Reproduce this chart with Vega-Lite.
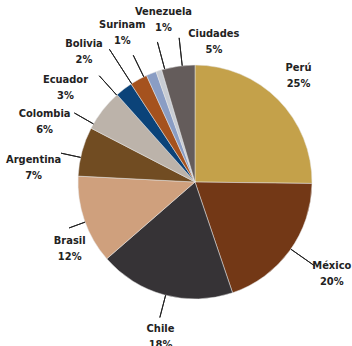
{
  "$schema": "https://vega.github.io/schema/vega-lite/v6.json",
  "width": 314,
  "height": 328,
  "autosize": {"type": "none"},
  "padding": {"left": 38, "top": 18, "right": 0, "bottom": 0},
  "background": "white",
  "view": {"stroke": null},
  "config": {"text": {"font": "'DejaVu Sans Condensed', sans-serif", "fontSize": 11, "fontWeight": "bold", "color": "#222", "lineHeight": 16, "align": "center", "baseline": "middle", "dy": -8}},
  "data": {"values": [
    {"orden": 1, "pais": "Perú", "valor": 25.2, "pct": 25},
    {"orden": 2, "pais": "México", "valor": 19.6, "pct": 20},
    {"orden": 3, "pais": "Chile", "valor": 18.8, "pct": 18},
    {"orden": 4, "pais": "Brasil", "valor": 12.2, "pct": 12},
    {"orden": 5, "pais": "Argentina", "valor": 6.8, "pct": 7},
    {"orden": 6, "pais": "Colombia", "valor": 5.8, "pct": 6},
    {"orden": 7, "pais": "Ecuador", "valor": 2.4, "pct": 3},
    {"orden": 8, "pais": "Bolivia", "valor": 2.4, "pct": 2},
    {"orden": 9, "pais": "Surinam", "valor": 1.4, "pct": 1},
    {"orden": 10, "pais": "Venezuela", "valor": 0.8, "pct": 1},
    {"orden": 11, "pais": "Ciudades", "valor": 4.6, "pct": 5}
  ]},
  "transform": [
    {"window": [{"op": "sum", "field": "valor", "as": "fin"}], "sort": [{"field": "orden"}], "frame": [null, 0]},
    {"calculate": "datum.fin - datum.valor", "as": "inicio"},
    {"calculate": "datum.fin - datum.valor / 2", "as": "mid"},
    {"calculate": "[datum.pais, datum.pct + '%']", "as": "lab"}
  ],
  "layer": [
    {
      "mark": {"type": "arc", "radius": 117, "stroke": "#e6e6e6", "strokeWidth": 0.5},
      "encoding": {
        "theta": {"field": "inicio", "type": "quantitative", "stack": null, "scale": {"domain": [0, 100]}},
        "theta2": {"field": "fin"},
        "color": {"field": "pais", "type": "nominal", "legend": null,
          "scale": {"domain": ["Perú", "México", "Chile", "Brasil", "Argentina", "Colombia", "Ecuador", "Bolivia", "Surinam", "Venezuela", "Ciudades"],
                    "range": ["#C4A14A", "#733816", "#363336", "#CFA07D", "#714C22", "#BCB3AA", "#0B4379", "#A5521E", "#8A9DC4", "#C8CCD3", "#645C5B"]}}
      }
    },
    {"transform": [{"filter": "datum.pais === 'Perú'"}],
     "encoding": {"theta": {"field": "mid", "type": "quantitative", "stack": null, "scale": {"domain": [0, 100]}}},
     "layer": [{"mark": {"type": "text", "radius": 148, "thetaOffset": -0.017}, "encoding": {"text": {"field": "lab"}}}]},
    {"transform": [{"filter": "datum.pais === 'México'"}],
     "encoding": {"theta": {"field": "mid", "type": "quantitative", "stack": null, "scale": {"domain": [0, 100]}}},
     "layer": [
       {"mark": {"type": "text", "radius": 165, "thetaOffset": -0.035}, "encoding": {"text": {"field": "lab"}}},
       {"mark": {"type": "arc", "radius": 146, "radius2": 117, "thetaOffset": -0.017, "theta2Offset": -0.017, "stroke": "#222", "strokeWidth": 1, "fill": null}, "encoding": {"theta2": {"field": "mid"}}}
     ]},
    {"transform": [{"filter": "datum.pais === 'Chile'"}],
     "encoding": {"theta": {"field": "mid", "type": "quantitative", "stack": null, "scale": {"domain": [0, 100]}}},
     "layer": [
       {"mark": {"type": "text", "radius": 159, "thetaOffset": -0.045}, "encoding": {"text": {"field": "lab"}}},
       {"mark": {"type": "arc", "radius": 140, "radius2": 117, "thetaOffset": -0.01, "theta2Offset": -0.01, "stroke": "#222", "strokeWidth": 1, "fill": null}, "encoding": {"theta2": {"field": "mid"}}}
     ]},
    {"transform": [{"filter": "datum.pais === 'Brasil'"}],
     "encoding": {"theta": {"field": "mid", "type": "quantitative", "stack": null, "scale": {"domain": [0, 100]}}},
     "layer": [
       {"mark": {"type": "text", "radius": 142, "thetaOffset": -0.157}, "encoding": {"text": {"field": "lab"}}},
       {"mark": {"type": "arc", "radius": 134, "radius2": 117, "thetaOffset": -0.017, "theta2Offset": -0.017, "stroke": "#222", "strokeWidth": 1, "fill": null}, "encoding": {"theta2": {"field": "mid"}}}
     ]},
    {"transform": [{"filter": "datum.pais === 'Argentina'"}],
     "encoding": {"theta": {"field": "mid", "type": "quantitative", "stack": null, "scale": {"domain": [0, 100]}}},
     "layer": [
       {"mark": {"type": "text", "radius": 162, "thetaOffset": -0.175}, "encoding": {"text": {"field": "lab"}}},
       {"mark": {"type": "arc", "radius": 137, "radius2": 117, "thetaOffset": -0.052, "theta2Offset": -0.052, "stroke": "#222", "strokeWidth": 1, "fill": null}, "encoding": {"theta2": {"field": "mid"}}}
     ]},
    {"transform": [{"filter": "datum.pais === 'Colombia'"}],
     "encoding": {"theta": {"field": "mid", "type": "quantitative", "stack": null, "scale": {"domain": [0, 100]}}},
     "layer": [
       {"mark": {"type": "text", "radius": 162, "thetaOffset": -0.279}, "encoding": {"text": {"field": "lab"}}},
       {"mark": {"type": "arc", "radius": 139, "radius2": 117, "thetaOffset": -0.14, "theta2Offset": -0.14, "stroke": "#222", "strokeWidth": 1, "fill": null}, "encoding": {"theta2": {"field": "mid"}}}
     ]},
    {"transform": [{"filter": "datum.pais === 'Ecuador'"}],
     "encoding": {"theta": {"field": "mid", "type": "quantitative", "stack": null, "scale": {"domain": [0, 100]}}},
     "layer": [
       {"mark": {"type": "text", "radius": 160, "thetaOffset": -0.29}, "encoding": {"text": {"field": "lab"}}},
       {"mark": {"type": "arc", "radius": 143, "radius2": 117, "thetaOffset": -0.08, "theta2Offset": -0.08, "stroke": "#222", "strokeWidth": 1, "fill": null}, "encoding": {"theta2": {"field": "mid"}}}
     ]},
    {"transform": [{"filter": "datum.pais === 'Bolivia'"}],
     "encoding": {"theta": {"field": "mid", "type": "quantitative", "stack": null, "scale": {"domain": [0, 100]}}},
     "layer": [
       {"mark": {"type": "text", "radius": 171, "thetaOffset": -0.204}, "encoding": {"text": {"field": "lab"}}},
       {"mark": {"type": "arc", "radius": 158, "radius2": 117, "thetaOffset": -0.07, "theta2Offset": -0.07, "stroke": "#222", "strokeWidth": 1, "fill": null}, "encoding": {"theta2": {"field": "mid"}}}
     ]},
    {"transform": [{"filter": "datum.pais === 'Surinam'"}],
     "encoding": {"theta": {"field": "mid", "type": "quantitative", "stack": null, "scale": {"domain": [0, 100]}}},
     "layer": [
       {"mark": {"type": "text", "radius": 166, "thetaOffset": -0.07}, "encoding": {"text": {"field": "lab"}}},
       {"mark": {"type": "arc", "radius": 141, "radius2": 117, "thetaOffset": -0.07, "theta2Offset": -0.07, "stroke": "#222", "strokeWidth": 1, "fill": null}, "encoding": {"theta2": {"field": "mid"}}}
     ]},
    {"transform": [{"filter": "datum.pais === 'Venezuela'"}],
     "encoding": {"theta": {"field": "mid", "type": "quantitative", "stack": null, "scale": {"domain": [0, 100]}}},
     "layer": [
       {"mark": {"type": "text", "radius": 165, "thetaOffset": 0.122}, "encoding": {"text": {"field": "lab"}}},
       {"mark": {"type": "arc", "radius": 145, "radius2": 117, "thetaOffset": 0.052, "theta2Offset": 0.052, "stroke": "#222", "strokeWidth": 1, "fill": null}, "encoding": {"theta2": {"field": "mid"}}}
     ]},
    {"transform": [{"filter": "datum.pais === 'Ciudades'"}],
     "encoding": {"theta": {"field": "mid", "type": "quantitative", "stack": null, "scale": {"domain": [0, 100]}}},
     "layer": [
       {"mark": {"type": "text", "radius": 141, "thetaOffset": 0.279}, "encoding": {"text": {"field": "lab"}}},
       {"mark": {"type": "arc", "radius": 145, "radius2": 117, "thetaOffset": 0.035, "theta2Offset": 0.035, "stroke": "#222", "strokeWidth": 1, "fill": null}, "encoding": {"theta2": {"field": "mid"}}}
     ]}
  ]
}
